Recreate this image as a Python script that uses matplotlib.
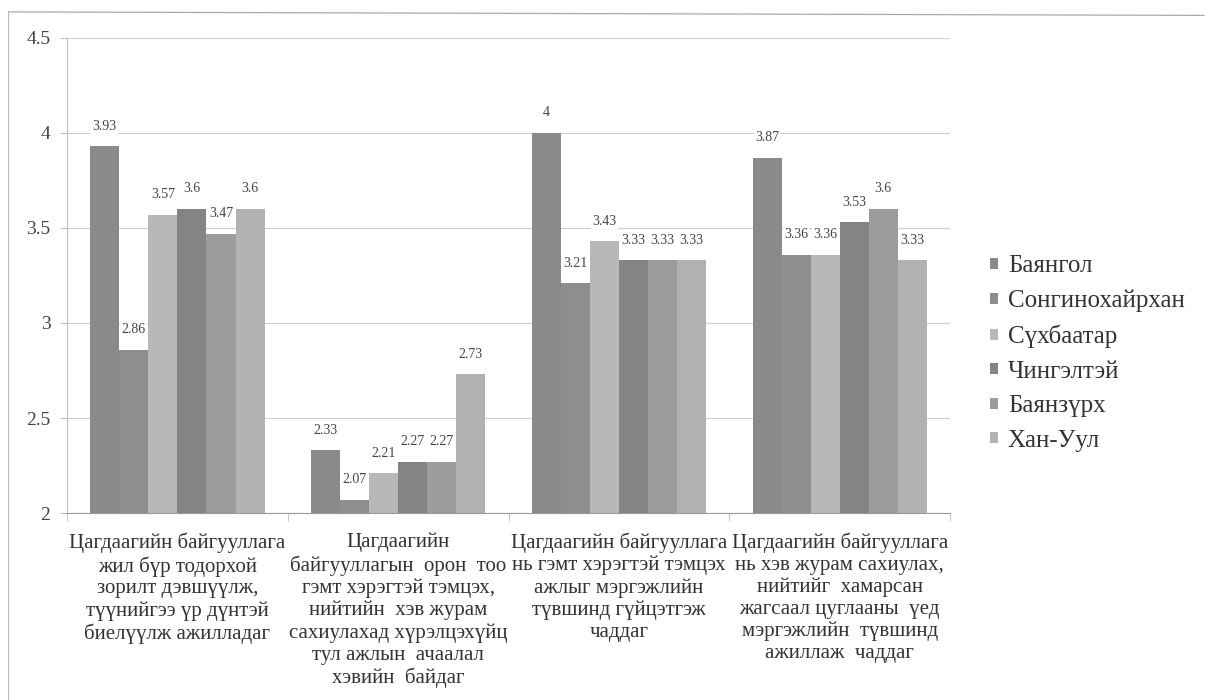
import numpy as np
import matplotlib.pyplot as plt
from matplotlib.lines import Line2D

plt.rcParams['font.family'] = ['Liberation Serif', 'DejaVu Serif']

categories = [
    "Цагдаагийн байгууллага\nжил бүр тодорхой\nзорилт дэвшүүлж,\nтүүнийгээ үр дүнтэй\nбиелүүлж ажилладаг",
    "Цагдаагийн\nбайгууллагын  орон  тоо\nгэмт хэрэгтэй тэмцэх,\nнийтийн  хэв журам\nсахиулахад хүрэлцэхүйц\nтул ажлын  ачаалал\nхэвийн  байдаг",
    "Цагдаагийн байгууллага\nнь гэмт хэрэгтэй тэмцэх\nажлыг мэргэжлийн\nтүвшинд гүйцэтгэж\nчаддаг",
    "Цагдаагийн байгууллага\nнь хэв журам сахиулах,\nнийтийг  хамарсан\nжагсаал цуглааны  үед\nмэргэжлийн  түвшинд\nажиллаж  чаддаг",
]

districts = ["Баянгол", "Сонгинохайрхан", "Сүхбаатар", "Чингэлтэй", "Баянзүрх", "Хан-Уул"]
bayangol = [3.93, 2.33, 4, 3.87]
songino = [2.86, 2.07, 3.21, 3.36]
sukhbaatar = [3.57, 2.21, 3.43, 3.36]
chingeltei = [3.6, 2.27, 3.33, 3.53]
bayanzurkh = [3.47, 2.27, 3.33, 3.6]
khanuul = [3.6, 2.73, 3.33, 3.33]
series = [bayangol, songino, sukhbaatar, chingeltei, bayanzurkh, khanuul]
colors = ["#8a8a8a", "#8e8e8e", "#b8b8b8", "#848484", "#9c9c9c", "#b2b2b2"]

fig = plt.figure(figsize=(12.1, 7), dpi=100)
# scanned frame: only the top and left edges are visible
fig.lines.append(Line2D([0.007, 0.995], [0.983, 0.978], transform=fig.transFigure,
                        color="#aaaaaa", linewidth=0.9))
fig.lines.append(Line2D([0.007, 0.007], [0.0, 0.983], transform=fig.transFigure,
                        color="#bbbbbb", linewidth=0.8))
ax = fig.add_axes([0.0554, 0.267, 0.7298, 0.679])

x = np.arange(len(categories))
gw = 0.79
w = gw / len(series)
for i, (vals, name) in enumerate(zip(series, districts)):
    pos = x - gw / 2 + w * (i + 0.5)
    ax.bar(pos, vals, width=w, bottom=0, color=colors[i], label=name, zorder=2)
    for p, v in zip(pos, vals):
        ax.text(p, v + 0.105, f"{v:g}", ha="center", va="center", fontsize=10,
                color="#444444", zorder=3,
                bbox=dict(facecolor="white", edgecolor="none", pad=1))

ax.set_ylim(2, 4.5)
ax.set_xlim(-0.5, len(categories) - 0.5)
ax.set_yticks([2, 2.5, 3, 3.5, 4, 4.5])
ax.set_yticklabels(["2", "2.5", "3", "3.5", "4", "4.5"], fontsize=14, color="#444444")
ax.yaxis.grid(True, color="#d0d0d0", linewidth=0.8, zorder=0)
ax.set_axisbelow(True)
ax.tick_params(axis="y", length=5, color="#bbbbbb", pad=7)

ax.set_xticks(x)
ax.set_xticklabels(categories, fontsize=15, color="#333333", linespacing=1.2)
ax.tick_params(axis="x", length=0, pad=14)
ax.set_xticks(np.arange(len(categories) + 1) - 0.5, minor=True)
ax.tick_params(axis="x", which="minor", length=6, color="#bbbbbb")

for s in ["top", "right"]:
    ax.spines[s].set_visible(False)
ax.spines["left"].set_color("#bbbbbb")
ax.spines["bottom"].set_color("#999999")

fig.legend(loc="center left", bbox_to_anchor=(0.818, 0.495), frameon=False,
           fontsize=18, handlelength=0.32, handleheight=0.32, handletextpad=0.4,
           labelspacing=0.5, borderpad=0, borderaxespad=0, labelcolor="#333333")

fig.savefig("out.png", dpi=100)
